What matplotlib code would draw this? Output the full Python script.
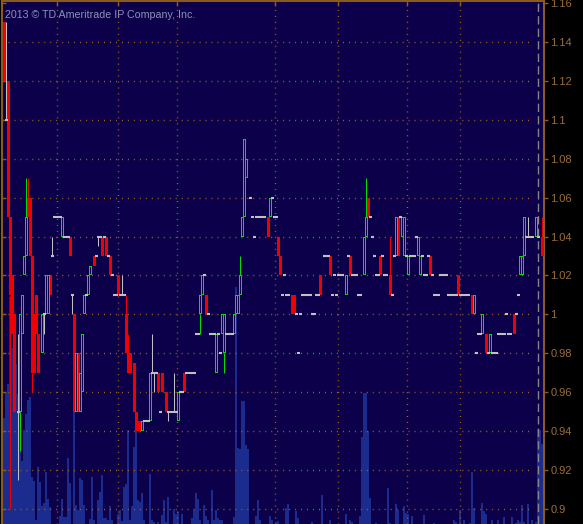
import matplotlib
matplotlib.use("Agg")
from matplotlib import pyplot as plt
from matplotlib.ticker import FuncFormatter

# one slot per minute bar; prices in dollars
up_slot = [8, 9, 10, 11, 19, 21, 22, 29, 36, 38, 39, 40, 42, 43, 69, 73, 87, 98, 99, 106,
           109, 110, 115, 116, 117, 118, 119, 120, 121, 133, 171, 180, 181, 196, 199, 200,
           202, 207, 208, 235, 239, 243, 258, 259, 260, 266]
up_open = [0.95, 0.99, 1.02, 1.03, 0.98, 1.00, 1.00, 1.04, 0.95, 0.95, 0.96, 1.00, 1.01, 1.02,
           0.94, 0.945, 0.945, 1.00, 1.01, 0.97, 0.99, 0.98, 0.99, 1.00, 1.00, 1.01, 1.04, 1.05,
           1.07, 1.05, 1.01, 1.02, 1.04, 1.03, 1.04, 1.03, 1.02, 1.03, 1.02, 1.00, 0.99, 0.98,
           1.02, 1.02, 1.03, 1.04]
up_close = [1.00, 1.01, 1.03, 1.05, 1.00, 1.02, 1.02, 1.05, 0.98, 0.97, 0.99, 1.01, 1.02, 1.025,
            0.945, 0.97, 0.96, 1.01, 1.02, 0.99, 1.00, 1.00, 1.00, 1.01, 1.01, 1.02, 1.05, 1.09,
            1.08, 1.06, 1.02, 1.04, 1.05, 1.05, 1.05, 1.05, 1.03, 1.04, 1.03, 1.01, 1.00, 0.99,
            1.03, 1.03, 1.05, 1.05]

down_slot = [0, 2, 3, 4, 5, 12, 13, 14, 15, 16, 17, 23, 33, 35, 37, 45, 49, 51, 53, 57, 61, 62,
             63, 65, 66, 67, 68, 77, 79, 81, 90, 101, 132, 137, 138, 144, 145, 158, 163, 173,
             182, 188, 193, 197, 213, 227, 234, 241, 255, 269]
down_open = [1.15, 1.12, 1.05, 1.02, 1.00, 1.06, 1.06, 1.03, 1.00, 1.01, 0.99, 1.02, 1.04, 1.00,
             0.98, 1.03, 1.04, 1.04, 1.03, 1.02, 1.00, 0.98, 0.98, 0.975, 0.95, 0.945, 0.945,
             0.97, 0.97, 0.96, 0.97, 1.01, 1.05, 1.04, 1.03, 1.01, 1.01, 1.02, 1.03, 1.03, 1.06,
             1.03, 1.02, 1.05, 1.03, 1.02, 1.01, 0.99, 1.00, 1.04]
down_close = [1.12, 1.05, 1.01, 0.99, 0.95, 1.05, 1.03, 0.97, 0.97, 0.99, 0.97, 1.01, 1.03, 0.95,
              0.95, 1.025, 1.03, 1.03, 1.02, 1.01, 0.98, 0.97, 0.97, 0.95, 0.94, 0.94, 0.94,
              0.96, 0.96, 0.95, 0.96, 1.00, 1.04, 1.03, 1.02, 1.00, 1.00, 1.01, 1.02, 1.02, 1.05,
              1.02, 1.01, 1.03, 1.02, 1.01, 1.00, 0.98, 0.99, 1.03]

# runs of unchanged bars (first slot, last slot, price)
flat_first = [1, 7, 20, 24, 25, 30, 34, 41, 46, 47, 50, 52, 54, 55, 58, 70, 74, 78, 82, 88, 91,
              96, 100, 102, 103, 107, 108, 111, 123, 124, 125, 126, 134, 135, 139, 140, 141, 146,
              147, 148, 149, 154, 156, 160, 164, 165, 166, 167, 172, 174, 177, 183, 184, 185, 186,
              189, 190, 194, 195, 198, 201, 203, 206, 209, 210, 212, 214, 215, 218, 222, 228, 236,
              237, 242, 244, 247, 251, 252, 256, 257, 261, 267]
flat_last = [1, 7, 20, 24, 28, 32, 34, 41, 46, 48, 50, 52, 54, 56, 60, 72, 76, 78, 86, 89, 95,
             97, 100, 102, 105, 107, 108, 114, 123, 124, 125, 130, 134, 136, 139, 140, 142, 146,
             147, 148, 153, 155, 157, 162, 164, 165, 166, 169, 172, 176, 178, 183, 184, 185, 187,
             189, 191, 194, 195, 198, 201, 205, 206, 209, 211, 212, 214, 217, 221, 226, 232, 236,
             238, 242, 246, 250, 251, 253, 256, 257, 264, 267]
flat_price = [1.10, 0.95, 1.00, 1.03, 1.05, 1.04, 1.01, 1.01, 1.03, 1.04, 1.04, 1.03, 1.02, 1.01,
              1.01, 0.945, 0.97, 0.95, 0.95, 0.96, 0.97, 0.99, 1.02, 1.00, 0.99, 0.99, 0.98, 0.99,
              1.06, 1.05, 1.04, 1.05, 1.06, 1.05, 1.01, 1.02, 1.01, 1.00, 0.98, 1.00, 1.01, 1.00,
              1.01, 1.03, 1.01, 1.02, 1.01, 1.02, 1.03, 1.02, 1.01, 1.05, 1.04, 1.03, 1.02, 1.03,
              1.02, 1.01, 1.03, 1.05, 1.03, 1.03, 1.04, 1.03, 1.02, 1.03, 1.02, 1.01, 1.02, 1.01,
              1.01, 0.98, 0.99, 0.98, 0.98, 0.99, 1.00, 0.99, 1.00, 1.01, 1.04, 1.04]

# bars whose high / low reach past the body
wick_slot = [1, 3, 7, 8, 11, 12, 14, 20, 24, 34, 47, 59, 61, 62, 74, 75, 82, 85, 98, 110, 118,
             181, 193, 262, 269]
wick_high = [1.15, 1.05, 0.99, 1.00, 1.07, 1.07, 1.03, 1.00, 1.04, 1.01, 1.04, 1.02, 1.01, 0.99,
             0.99, 0.97, 0.95, 0.97, 1.01, 1.00, 1.03, 1.07, 1.04, 1.05, 1.05]
wick_low = [1.10, 0.90, 0.915, 0.93, 1.03, 1.05, 0.96, 0.99, 1.03, 1.00, 1.035, 1.01, 0.98, 0.97,
            0.97, 0.96, 0.945, 0.95, 0.99, 0.97, 1.01, 1.04, 1.01, 1.04, 1.03]

vol_slot = [0, 1, 2, 3, 4, 5, 6, 7, 8, 9, 10, 11, 12, 13, 14, 15, 16, 17, 18, 19, 20, 21, 22, 23,
            28, 29, 30, 31, 32, 33, 35, 36, 37, 38, 39, 40, 43, 44, 45, 47, 48, 49, 50, 51, 52,
            53, 54, 57, 58, 59, 60, 61, 62, 63, 64, 65, 66, 67, 68, 69, 70, 73, 74, 75, 77, 79,
            80, 81, 82, 85, 86, 87, 89, 94, 95, 96, 97, 98, 100, 101, 102, 104, 105, 106, 107,
            108, 109, 115, 116, 117, 118, 119, 120, 121, 122, 126, 127, 128, 133, 134, 136, 137,
            141, 142, 146, 147, 154, 159, 163, 171, 173, 174, 178, 179, 180, 181, 182, 183, 186,
            192, 193, 196, 197, 200, 201, 202, 204, 210, 215, 225, 226, 228, 230, 233, 234, 235,
            239, 240, 241, 244, 247, 250, 254, 256, 257, 258, 259, 260, 262, 264, 266, 267, 268,
            269]
vol_value = [106, 131, 140, 227, 176, 186, 160, 130, 112, 63, 94, 110, 124, 127, 47, 43, 4, 57,
             42, 18, 21, 52, 25, 17, 8, 25, 7, 7, 66, 41, 114, 19, 14, 46, 44, 19, 5, 47, 4, 24,
             32, 49, 6, 6, 4, 18, 4, 10, 14, 3, 37, 40, 94, 4, 18, 77, 94, 24, 22, 31, 4, 50, 4,
             2, 2, 9, 24, 2, 27, 15, 10, 12, 10, 6, 14, 31, 25, 4, 19, 8, 4, 34, 4, 14, 6, 4, 4,
             7, 237, 76, 75, 123, 123, 79, 75, 8, 24, 4, 8, 4, 2, 3, 16, 20, 13, 6, 2, 29, 4, 10,
             4, 2, 8, 87, 131, 131, 93, 26, 1, 36, 1, 20, 14, 18, 11, 10, 8, 9, 1, 4, 2, 14, 4,
             1, 52, 16, 21, 13, 10, 4, 4, 7, 7, 1, 4, 2, 19, 2, 20, 4, 2, 95, 94, 80]

price_ticks = [0.90, 0.92, 0.94, 0.96, 0.98, 1.00, 1.02, 1.04, 1.06, 1.08, 1.10, 1.12, 1.14, 1.16]
time_grid = [26.5, 57, 86.5, 135.5, 167, 201.5, 228]
last_slot = 267
grid_end = 263

NAVY = "#0c004a"
VOL = "#1c2b8e"
GREEN = "#00e000"
RED = "#f20000"
GRAY = "#c0c0c0"
AXIS = "#8a5a1e"
GRID = "#a8681c"
LABEL = "#9a6e3a"
DOTS = (0, (0.7, 3.6))

fig = plt.figure(figsize=(5.83, 5.24), dpi=100, facecolor="black")
ax_v = fig.add_axes([2 / 583, 0, 542 / 583, 523 / 524])
ax_v.set_facecolor(NAVY)

# volume underneath
ax_v.bar(vol_slot, vol_value, width=1.0, color=VOL, linewidth=0)
ax_v.set_ylim(0, 523)
ax_v.set_xlim(-1, 270)
ax_v.set_yticks([])
ax_v.set_xticks(time_grid)
ax_v.tick_params(axis="x", bottom=False, top=True, direction="in", length=3.6,
                 width=1, color=AXIS, labelbottom=False, labeltop=False)
ax_v.grid(axis="x", color=GRID, linestyle=DOTS, linewidth=1.0)
for s in ax_v.spines.values():
    s.set_visible(False)

ax_p = ax_v.twinx()
ax_p.set_ylim(0.8923, 1.161)
ax_p.set_xlim(-1, 270)

# horizontal dotted grid, stops short of the last bars
ax_p.hlines(price_ticks[:-1], -1, grid_end, color=GRID, linestyle=DOTS, linewidth=1.0, zorder=1)

# red bodies filled
ax_p.bar(down_slot, [c - o for o, c in zip(down_open, down_close)], bottom=down_open,
         width=1.5, color=RED, linewidth=0, zorder=3)

# green bodies hollow: a green block with a 1px dark core
up_h = [c - o for o, c in zip(up_open, up_close)]
pix = (1.161 - 0.8923) / 523
ax_p.bar(up_slot, up_h, bottom=up_open, width=1.5, color=GREEN, linewidth=0, zorder=3)
ax_p.bar(up_slot, [max(h - 2 * pix, 0) for h in up_h], bottom=[o + pix for o in up_open],
         width=0.5, color=NAVY, linewidth=0, zorder=3.1)

# unchanged bars
ax_p.hlines(flat_price, [f - 0.75 for f in flat_first], [l + 0.75 for l in flat_last],
            color=GRAY, linewidth=1.5, zorder=3)

# wicks, drawn outside the body only
body = {}
for s, o, c in zip(up_slot, up_open, up_close):
    body[s] = (min(o, c), max(o, c), GREEN)
for s, o, c in zip(down_slot, down_open, down_close):
    body[s] = (min(o, c), max(o, c), RED)
for s, hi, lo in zip(wick_slot, wick_high, wick_low):
    if s in body:
        b_lo, b_hi, col = body[s]
    else:
        b_lo, b_hi, col = lo, lo, GRAY
    if hi > b_hi:
        ax_p.vlines(s, b_hi, hi, color=col, linewidth=0.75, zorder=3)
    if lo < b_lo:
        ax_p.vlines(s, lo, b_lo, color=col, linewidth=0.75, zorder=3)

ax_p.axvline(last_slot, color="#858585", linewidth=1.0, linestyle=(0, (6, 3)), zorder=2)

ax_p.set_yticks(price_ticks)
ax_p.yaxis.set_major_formatter(FuncFormatter(lambda v, pos: "%g" % round(v, 2)))
ax_p.tick_params(axis="y", right=True, left=False, direction="out", length=3, width=1,
                 color=AXIS, labelcolor=LABEL, labelsize=8, pad=1.5)
for lab in ax_p.get_yticklabels():
    lab.set_family("Liberation Sans")
ax_p.hlines(price_ticks, 0, 0.008, transform=ax_p.get_yaxis_transform(),
            color=AXIS, linewidth=1)

for side in ["left", "top", "right"]:
    ax_p.spines[side].set_color(AXIS)
    ax_p.spines[side].set_linewidth(1.5)
ax_p.spines["bottom"].set_visible(False)

ax_p.text(0.006, 0.982, "2013 \u00a9 TD Ameritrade IP Company, Inc.", transform=ax_p.transAxes,
          ha="left", va="top", fontsize=7.7, color="#9090b8", family="Liberation Sans")

fig.savefig("out.png", dpi=100, facecolor="black")
